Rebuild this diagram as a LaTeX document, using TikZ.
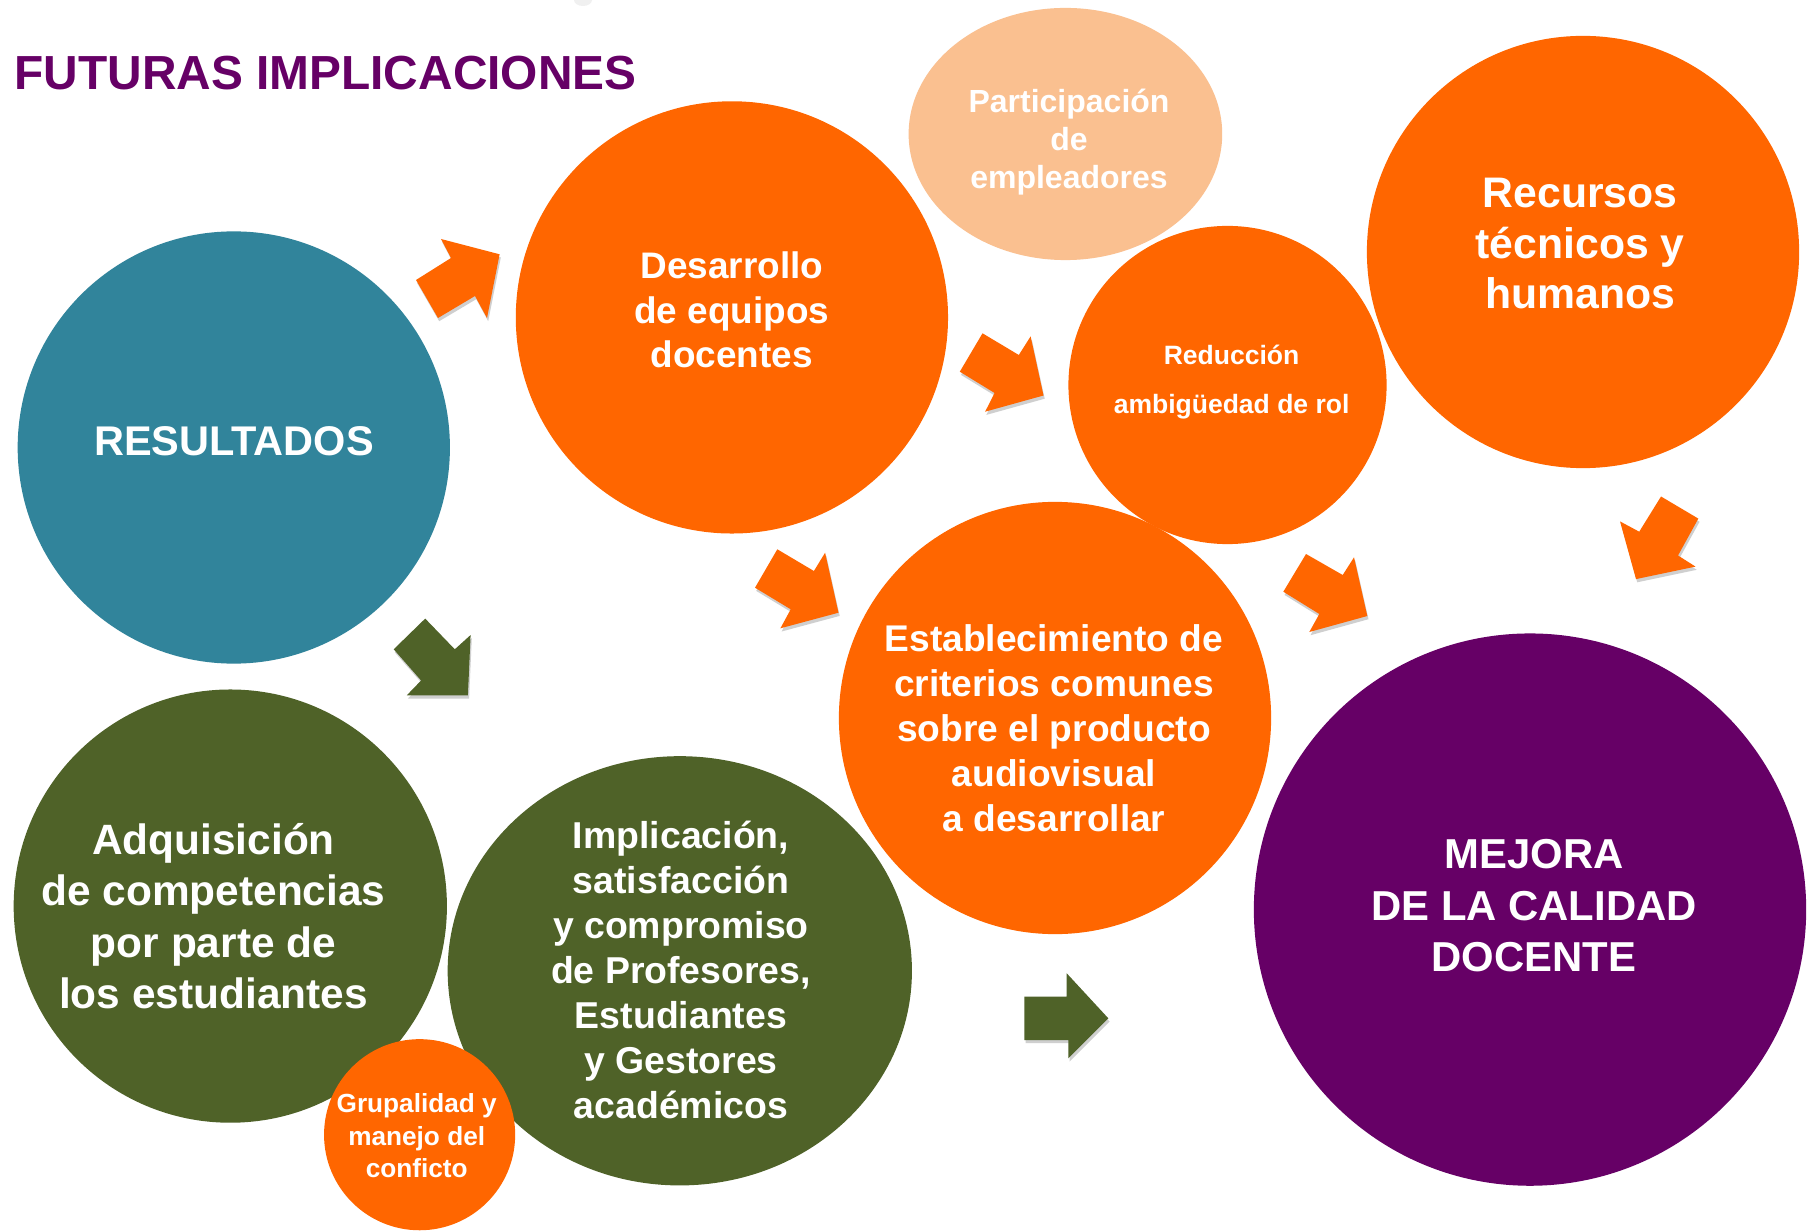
\documentclass[tikz,border=0pt]{standalone}
\usepackage{fontspec}
\setmainfont{Liberation Sans}
\usetikzlibrary{shapes.geometric}
\definecolor{corange}{HTML}{FF6600}
\definecolor{cteal}{HTML}{31849B}
\definecolor{cgreen}{HTML}{4F6228}
\definecolor{cpurple}{HTML}{660066}
\definecolor{clight}{HTML}{FAC090}
\definecolor{cshadow}{HTML}{CFCFCF}
\newcommand\fsz[2]{\fontsize{#1}{#2}\selectfont\bfseries}
\newcommand\blockarrow[2]{%
  \fill[cshadow, shift={(1.2,3.2)}] #2 -- cycle;
  \fill[#1] #2 -- cycle;}
\begin{document}
\begin{tikzpicture}[x=0.01cm, y=-0.01cm,
  bubble/.style={circle, inner sep=0pt, draw=none},
  oval/.style={ellipse, inner sep=0pt, draw=none},
  txt/.style={inner sep=0pt, align=center, text=white}]
\useasboundingbox (0,0) rectangle (1810,1231);
\fill[white] (0,0) rectangle (1810,1231);
\fill[black!6] (583,0) ellipse (9 and 6);

% title
\node[anchor=base west, inner sep=0pt, text=cpurple, font=\fsz{13.6}{16}] (title) at (14,90) {FUTURAS IMPLICACIONES};

% circles
\node[bubble, fill=cteal, minimum size=4.32cm] (res) at (233.8,447.5) {};
\node[bubble, fill=corange, minimum size=4.32cm] (des) at (731.9,317.4) {};
\node[oval, fill=clight, minimum width=3.134cm, minimum height=2.52cm] (par) at (1065.4,134) {};
\node[bubble, fill=corange, minimum size=4.32cm] (rec) at (1583,252) {};
\node[bubble, fill=corange, minimum size=4.32cm] (est) at (1055,718) {};
\node[bubble, fill=corange, minimum size=3.18cm] (red) at (1227.5,385) {};
\node[bubble, fill=cpurple, minimum size=5.52cm] (mej) at (1530,909.6) {};
\node[bubble, fill=cgreen, minimum size=4.33cm] (adq) at (230.3,906.1) {};
\node[oval, fill=cgreen, minimum width=4.64cm, minimum height=4.29cm] (imp) at (679.8,970.8) {};
\node[bubble, fill=corange, minimum size=1.91cm] (gru) at (419.6,1134.7) {};

% texts
\node[txt, font=\fsz{11.8}{14}] (resT) at (234,441) {RESULTADOS};
\node[txt, font=\fsz{10.5}{12.6}] (desT) at (731.8,310) {Desarrollo\\de equipos\\docentes};
\node[txt, font=\fsz{9.1}{10.8}] (parT) at (1069,142) {Participación\\de\\empleadores};
\node[txt, font=\fsz{7.54}{13.8}] (redT) at (1231.6,382) {Reducción\\ambigüedad de rol};
\node[txt, font=\fsz{12.15}{14.45}] (recT) at (1580,243.6) {Recursos\\técnicos y\\humanos};
\node[txt, font=\fsz{10.56}{12.8}] (estT) at (1054,728.4) {Establecimiento de\\criterios comunes\\sobre el producto\\audiovisual\\a desarrollar};
\node[txt, font=\fsz{11.9}{14.6}] (mejT) at (1534,905.6) {MEJORA\\DE LA CALIDAD\\DOCENTE};
\node[txt, font=\fsz{12.06}{14.6}] (adqT) at (213.5,916) {Adquisición\\de competencias\\por parte de\\los estudiantes};
\node[txt, font=\fsz{10.64}{12.8}] (impT) at (681,969.6) {Implicación,\\satisfacción\\y compromiso\\de Profesores,\\Estudiantes\\y Gestores\\académicos};
\node[txt, font=\fsz{7.45}{9.2}] (gruT) at (416.7,1135.8) {Grupalidad y\\manejo del\\conficto};

% arrows
\blockarrow{corange}{(441,239) -- (499.6,254.3) -- (487,318) -- (475,296) -- (438,318) -- (416,280) -- (451,258)}
\blockarrow{corange}{(982.5,333.3) -- (1018.8,355) -- (1030.6,336.4) -- (1043.5,395.5) -- (985.1,411.7) -- (994.6,393) -- (959.8,371.7)}
\blockarrow{corange}{(777.3,549.3) -- (813.9,571) -- (825.1,552.7) -- (838.5,612.7) -- (780.4,628.3) -- (790.7,609.3) -- (755,587.7)}
\blockarrow{corange}{(1306,554) -- (1342.7,575) -- (1354,557.3) -- (1367.3,616) -- (1309.3,632) -- (1319.3,614) -- (1283.3,591.7)}
\blockarrow{corange}{(1661,496.5) -- (1698.3,518.6) -- (1678,555.5) -- (1695.5,566.6) -- (1636,579.1) -- (1620,521.4) -- (1639.2,531.7)}
\blockarrow{cgreen}{(425.2,618.6) -- (454.8,649.3) -- (470.6,635) -- (467.9,695.3) -- (406.8,695.3) -- (421.1,680.5) -- (393.7,649.3)}
\blockarrow{cgreen}{(1024.3,996.7) -- (1066.7,996.7) -- (1066.7,973.3) -- (1108.3,1018.3) -- (1068.3,1058.3) -- (1068.3,1040) -- (1024.3,1040)}
\end{tikzpicture}
\end{document}
